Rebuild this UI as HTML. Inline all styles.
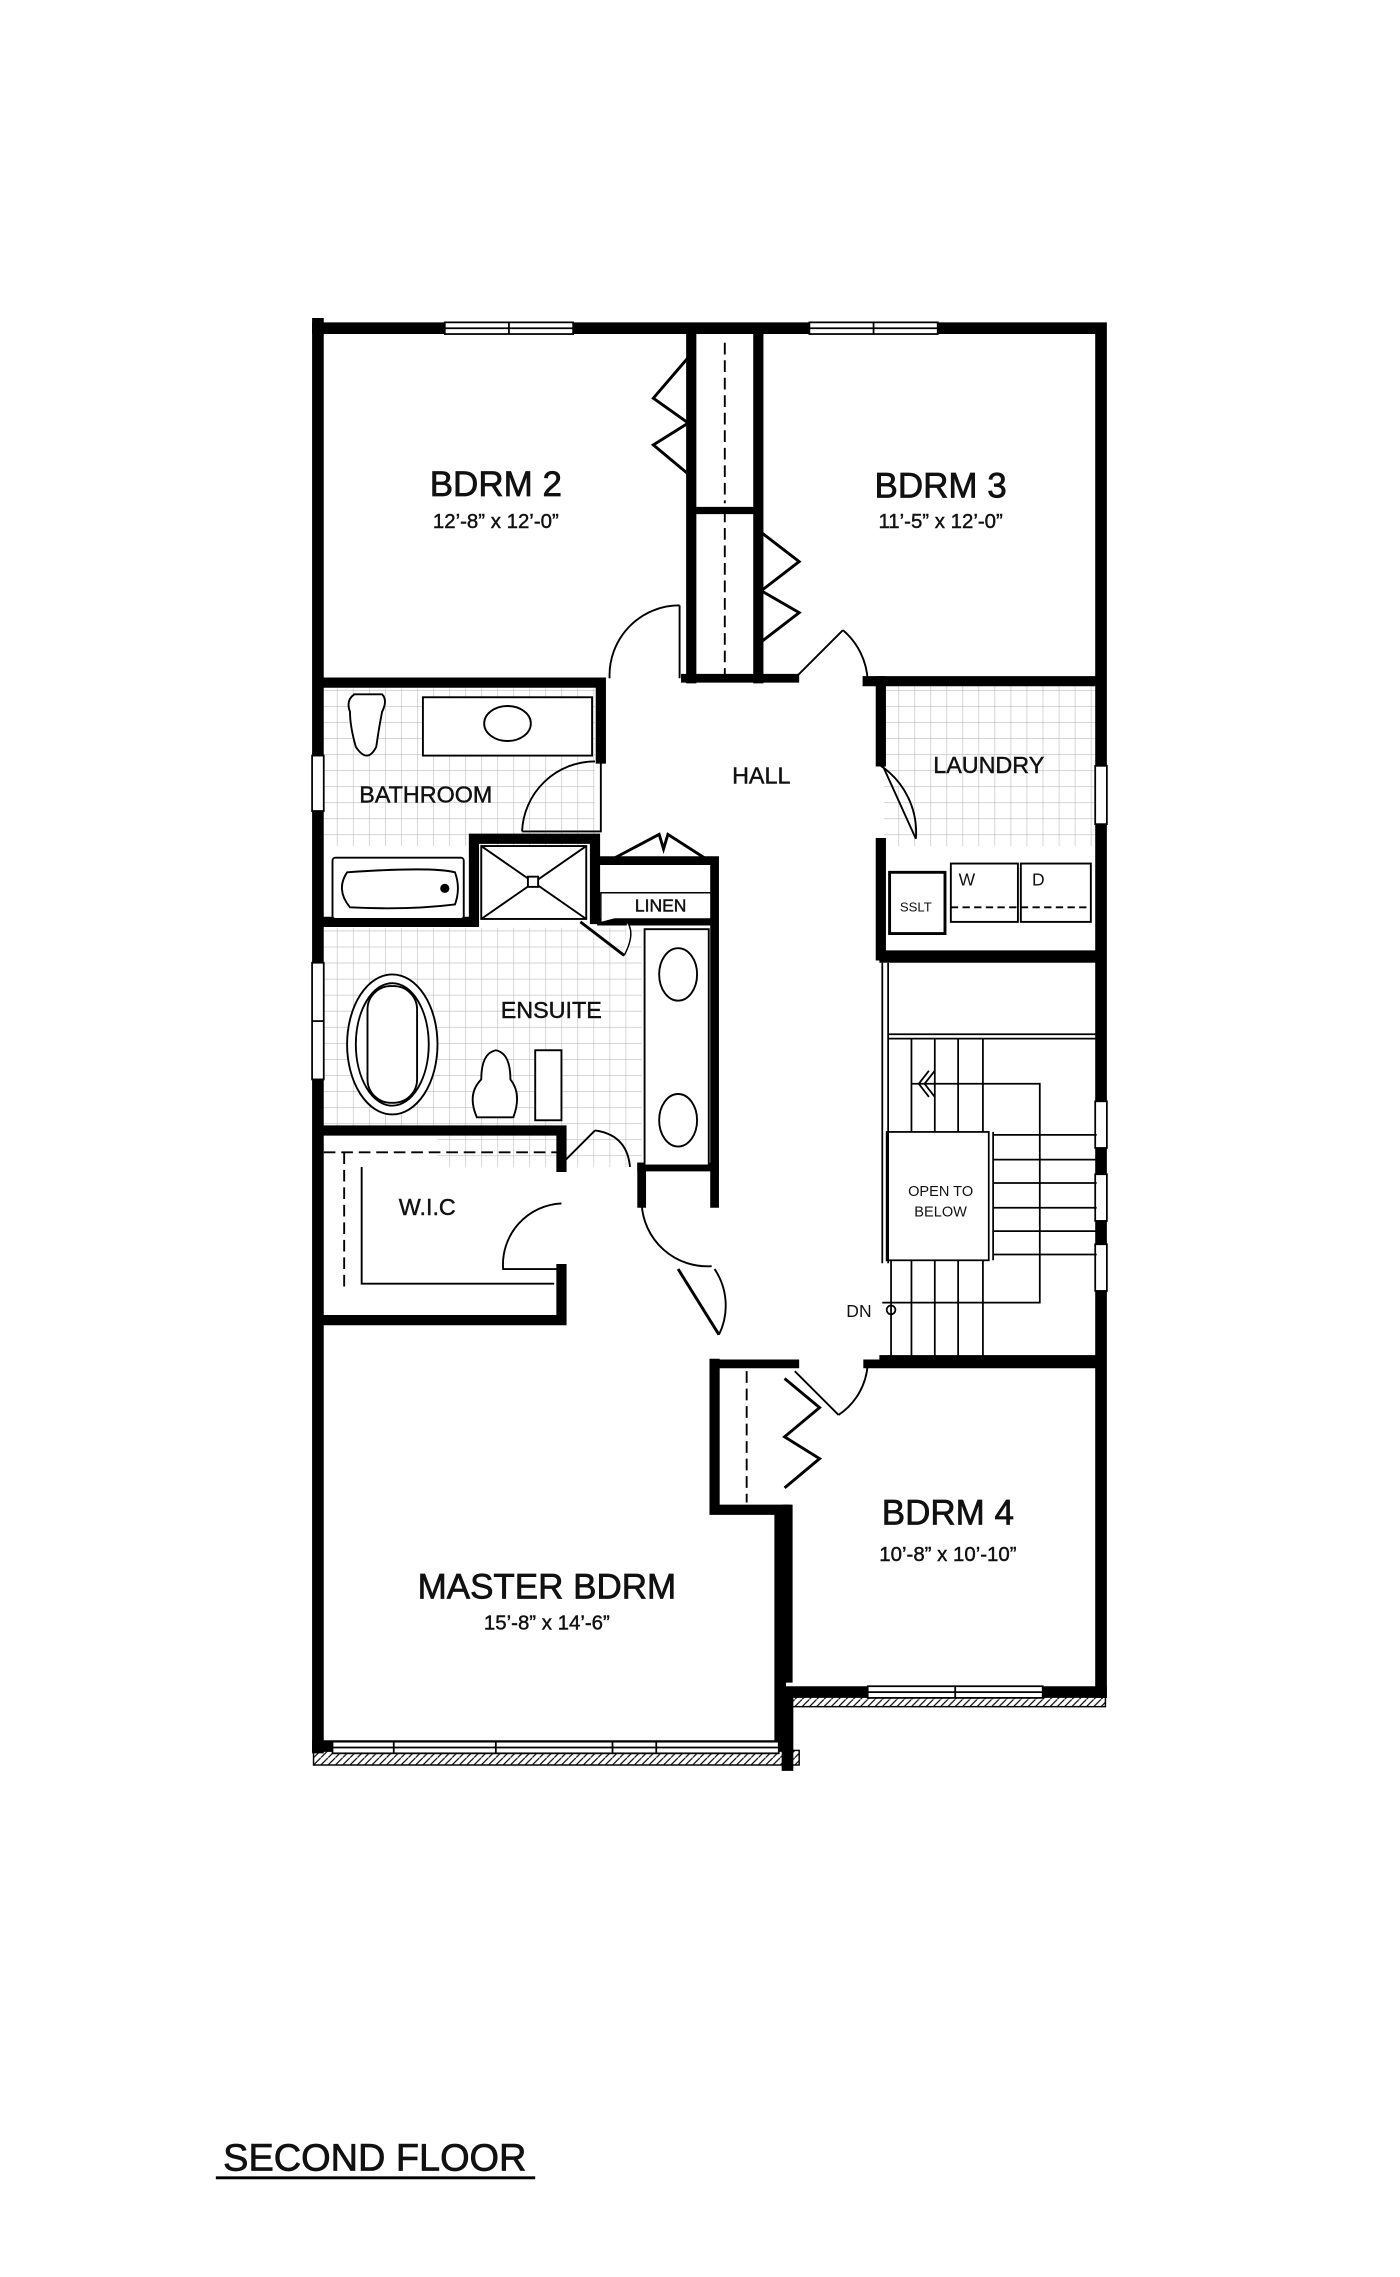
<!DOCTYPE html>
<html><head><meta charset="utf-8"><style>
html,body{margin:0;padding:0;background:#fff;}
svg{display:block;}
text{font-family:"Liberation Sans",sans-serif;fill:#111;text-anchor:middle;}
.big{stroke:#111;stroke-width:0.5;}
.mid{stroke:#111;stroke-width:0.3;}
</style></head><body>
<svg width="1400" height="2277" viewBox="0 0 960 1561" preserveAspectRatio="none" xmlns="http://www.w3.org/2000/svg">
<defs>
<pattern id="tile" width="11" height="11" patternUnits="userSpaceOnUse">
<rect width="11" height="11" fill="#fff"/>
<path d="M0 0H11M0 0V11" stroke="#bbb" stroke-width="0.8"/>
</pattern>
<pattern id="hatch" width="5" height="5" patternUnits="userSpaceOnUse">
<path d="M0 5L5 0" stroke="#000" stroke-width="0.8"/>
</pattern>
</defs>

<rect x="222" y="472" width="186" height="108" fill="url(#tile)"/>
<rect x="222" y="636" width="218" height="136" fill="url(#tile)"/>
<rect x="300" y="772" width="140" height="28" fill="url(#tile)"/>
<rect x="606" y="470" width="146" height="110" fill="url(#tile)"/>

<g stroke="#000" stroke-linecap="square" fill="none">
<path d="M218 225H755V1160" stroke-width="8"/>
<path d="M218 222V1198" stroke-width="8"/>
<path d="M218 1197H535V1040" stroke-width="8"/>
<path d="M540 1160H755" stroke-width="8"/>
<path d="M540 1150V1035" stroke-width="7"/>
<rect x="215" y="1200" width="333" height="10" fill="url(#hatch)" stroke-width="1"/>
<rect x="540" y="1162" width="218" height="8" fill="url(#hatch)" stroke-width="1"/>
<path d="M540 1162V1210" stroke-width="8"/>

<path d="M474 229V465" stroke-width="7"/>
<path d="M520 229V465" stroke-width="7"/>
<path d="M474 350H520" stroke-width="5"/>
<path d="M470 465H545" stroke-width="6"/>
<path d="M218 468H412V520" stroke-width="7"/>
<path d="M595 467H755" stroke-width="7"/>
<path d="M604 467V522M604 578V655H755" stroke-width="7"/>
<path d="M610 598H648V640H610Z" stroke-width="2"/>
<path d="M218 632H325V575H408V630" stroke-width="7"/>
<path d="M408 590H490V800" stroke-width="6"/>
<path d="M412 632H490" stroke-width="5"/>
<path d="M218 775H385V800M385 870V905H218" stroke-width="7"/>
<path d="M440 800H490V825" stroke-width="6"/>
<path d="M490 935V1035H538" stroke-width="7"/>
<path d="M490 935H545M595 935H755" stroke-width="6"/>
<path d="M440 800V825" stroke-width="6"/>
</g>

<g stroke="#000" fill="#fff" stroke-width="1.2">
<rect x="305" y="221" width="88" height="8"/><path d="M305 225H393M349 221V229"/>
<rect x="555" y="221" width="88" height="8"/><path d="M555 225H643M599 221V229"/>
<rect x="214" y="518" width="8" height="38"/>
<rect x="214" y="660" width="8" height="80"/><path d="M214 700H222"/>
<rect x="751" y="525" width="8" height="40"/>
<rect x="751" y="755" width="8" height="32"/>
<rect x="751" y="805" width="8" height="32"/>
<rect x="751" y="853" width="8" height="32"/>
<rect x="228" y="1194" width="306" height="8"/><path d="M228 1198H534M270 1194V1202M340 1194V1202M420 1194V1202M450 1194V1202"/>
<rect x="595" y="1156" width="120" height="8"/><path d="M595 1160H715M655 1156V1164"/>
</g>

<g stroke="#000" fill="#fff" stroke-width="1.3">
<rect x="290" y="478" width="116" height="40"/>
<ellipse cx="348" cy="496" rx="16" ry="12"/>
<path d="M243 476H262Q266 480 262 488Q260 498 258 512Q252 524 244 512Q240 498 240 488Q237 480 243 476Z"/>
<rect x="228" y="588" width="90" height="42" rx="2"/>
<path d="M238 598Q296 594 312 598Q316 609 312 620Q280 624 240 622Q230 610 238 598Z"/>
<circle cx="305" cy="609" r="2.5" fill="#000"/>
<rect x="330" y="580" width="72" height="50"/>
<path d="M330 580L402 630M402 580L330 630"/>
<rect x="362" y="601" width="7" height="7"/>
<path d="M398 632L428 655" stroke-width="2"/>
<path d="M428 655Q436 640 430 632" stroke-width="1"/>
<path d="M412 632V612H488" stroke-width="1"/>
<ellipse cx="269" cy="716" rx="31" ry="48"/>
<ellipse cx="269" cy="716" rx="25" ry="42"/>
<rect x="252" y="676" width="34" height="80" rx="16"/>
<rect x="442" y="637" width="44" height="162"/>
<ellipse cx="465" cy="668" rx="13" ry="18"/>
<ellipse cx="465" cy="768" rx="13" ry="18"/>
<path d="M327 766Q320 750 330 740Q330 722 340 720Q350 722 350 740Q358 750 352 766Z"/>
<rect x="367" y="720" width="18" height="48"/>
<rect x="652" y="592" width="46" height="40"/>
<rect x="700" y="592" width="48" height="40"/>
<path d="M652 622H748" stroke-dasharray="5 3"/>
<path d="M222 790H383M236 790V885" stroke-dasharray="8 4" fill="none"/>
<path d="M248 800V880H380" fill="none"/>
<path d="M512 940V1030" stroke-dasharray="8 4" fill="none"/>
<path d="M497 350V465M497 235V345" stroke-dasharray="8 4" fill="none"/>
</g>

<g stroke="#000" fill="none" stroke-width="1.3">
<path d="M466 415V465M466 415A48 48 0 0 0 418 465"/>
<path d="M545 465L578 432M578 432A48 48 0 0 1 595 467"/>
<path d="M412 520V570H358M358 570A50 50 0 0 1 408 522"/>
<path d="M604 522L628 575M628 575A55 55 0 0 0 604 525"/>
<path d="M472 245L448 273L472 290L448 305L472 325" stroke-width="2"/>
<path d="M522 365L548 385L522 405L548 420L522 440" stroke-width="2"/>
<path d="M418 590L452 572L455 582L458 572L486 590" stroke-width="2"/>
<path d="M383 800L408 775M408 775Q430 778 432 800" />
<path d="M385 825A42 42 0 0 0 345 870H385"/>
<path d="M440 825A45 45 0 0 0 488 868"/>
<path d="M465 870L493 915" stroke-width="2"/>
<path d="M493 915A45 45 0 0 0 490 870"/>
<path d="M545 940L575 970M575 970A45 45 0 0 0 595 935"/>
<path d="M538 945L562 965L538 985L562 1000L538 1020" stroke-width="2"/>
</g>

<g stroke="#000" fill="none" stroke-width="1.2">
<path d="M605 660V866M609 660V866"/>
<path d="M609 709H752M609 712H752"/>
<path d="M625 712V776M641 712V776M657 712V776M674 712V776"/>
<rect x="608" y="776" width="70" height="88"/>
<path d="M681 776V864"/>
<path d="M681 778H752M681 795H752M681 811H752M681 828H752M681 844H752M681 860H752"/>
<path d="M611 864V930M625 864V930M641 864V930M657 864V930M674 864V930"/>
<path d="M625 743H713V893H605"/>
<path d="M637 734L630 743L637 752M641 734L634 743L641 752"/>
<circle cx="611" cy="898" r="3"/>
</g>
<rect x="603" y="929" width="152" height="6" fill="#000"/>
<rect x="603" y="655" width="152" height="5" fill="#000"/>

<text class="big" x="340" y="340" font-size="24">BDRM 2</text>
<text class="mid" x="340" y="362" font-size="14">12’-8” x 12’-0”</text>
<text class="big" x="645" y="341" font-size="24">BDRM 3</text>
<text class="mid" x="645" y="362" font-size="14">11’-5” x 12’-0”</text>
<text class="mid" x="522" y="537" font-size="16">HALL</text>
<text class="mid" x="678" y="530" font-size="16">LAUNDRY</text>
<text class="mid" x="292" y="550" font-size="16">BATHROOM</text>
<text class="mid" x="453" y="625" font-size="12">LINEN</text>
<text class="mid" x="378" y="698" font-size="16">ENSUITE</text>
<text class="mid" x="293" y="833" font-size="16">W.I.C</text>
<text x="628" y="625" font-size="9">SSLT</text>
<text x="663" y="607" font-size="12">W</text>
<text x="712" y="607" font-size="12">D</text>
<text x="645" y="820" font-size="10">OPEN TO</text>
<text x="645" y="834" font-size="10">BELOW</text>
<text x="589" y="903" font-size="12">DN</text>
<text class="big" x="650" y="1045" font-size="24">BDRM 4</text>
<text class="mid" x="650" y="1070" font-size="14">10’-8” x 10’-10”</text>
<text class="big" x="375" y="1096" font-size="24">MASTER BDRM</text>
<text class="mid" x="375" y="1117" font-size="14">15’-8” x 14’-6”</text>
<text class="big" x="257" y="1488" font-size="26">SECOND FLOOR</text>
<rect x="148" y="1492" width="219" height="2" fill="#000"/>
</svg>
</body></html>
